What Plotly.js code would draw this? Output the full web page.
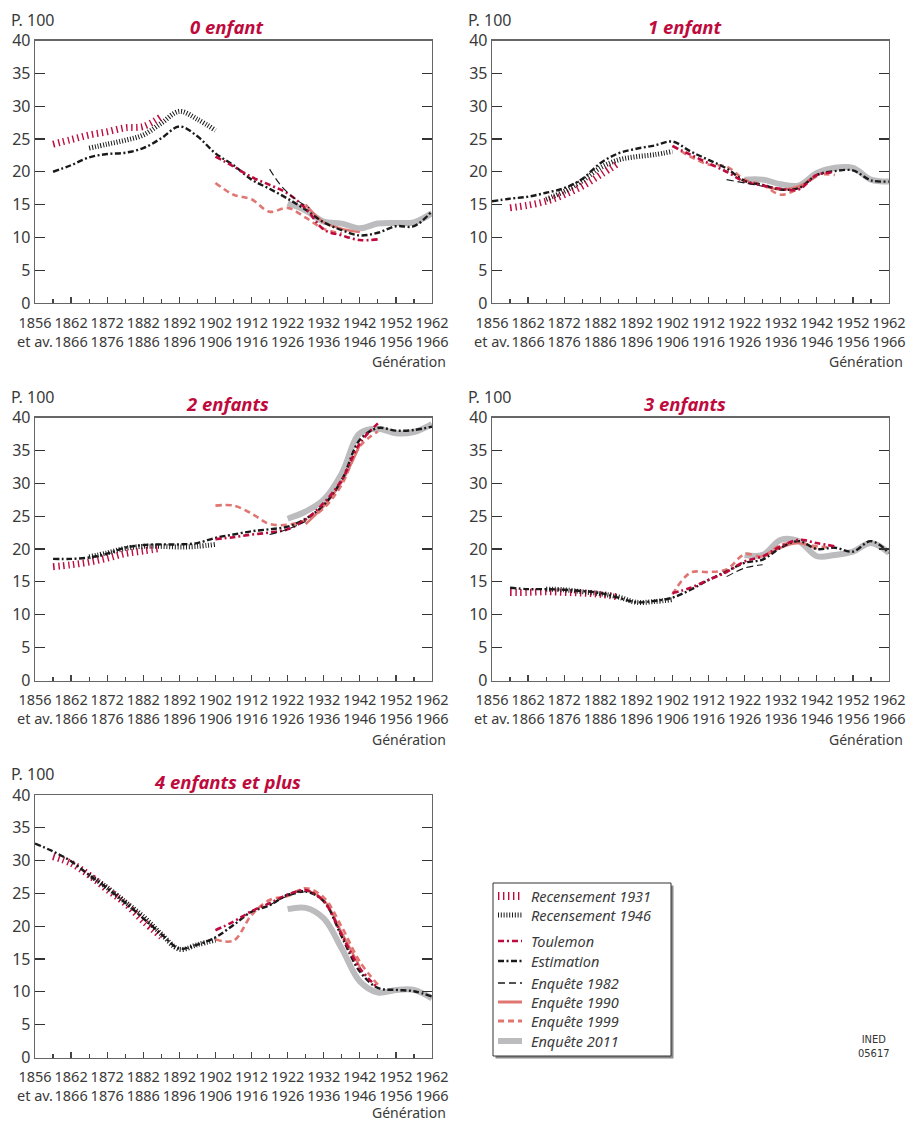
<!DOCTYPE html>
<html><head><meta charset="utf-8">
<script src="https://cdn.plot.ly/plotly-3.0.1.min.js"></script>
<style>html,body{margin:0;padding:0;background:#fff}#chart{width:907px;height:1121px}</style>
</head><body><div id="chart"></div>
<script>
// ---------- Data (generation midpoints, percent) ----------
const panelTitles = ["0 enfant", "1 enfant", "2 enfants", "3 enfants", "4 enfants et plus"];
const tickYears = [1854, 1864, 1874, 1884, 1894, 1904, 1914, 1924, 1934, 1944, 1954, 1964];
const tickLabels = ["1856<br>et av.", "1862<br>1866", "1872<br>1876", "1882<br>1886", "1892<br>1896",
  "1902<br>1906", "1912<br>1916", "1922<br>1926", "1932<br>1936", "1942<br>1946", "1952<br>1956", "1962<br>1966"];
const minorYears = [1859, 1869, 1879, 1889, 1899, 1909, 1919, 1929, 1939, 1949, 1959];

const yearsEstA = [1859, 1864, 1869, 1874, 1879, 1884, 1889, 1894, 1899, 1904, 1909, 1914, 1919, 1924, 1929, 1934, 1939, 1944, 1949, 1954, 1959, 1964];
const yearsEstB = [1854, 1859, 1864, 1869, 1874, 1879, 1884, 1889, 1894, 1899, 1904, 1909, 1914, 1919, 1924, 1929, 1934, 1939, 1944, 1949, 1954, 1959, 1964];
const yearsRec1931 = [1859, 1864, 1869, 1874, 1879, 1884, 1889];
const yearsRec1946 = [1869, 1874, 1879, 1884, 1889, 1894, 1899, 1904];
const yearsToulemon = [1904, 1909, 1914, 1919, 1924, 1929, 1934, 1939, 1944, 1949];
const yearsEnq1999 = [1904, 1909, 1914, 1919, 1924, 1929, 1934, 1939, 1944, 1949];
const yearsEnq1999p0 = [1904, 1909, 1914, 1919, 1924, 1929, 1934, 1939];
const yearsEnq1990 = [1929, 1934, 1939, 1944];
const yearsEnq1982p0 = [1919, 1922, 1926, 1930];
const yearsEnq1982 = [1919, 1924, 1929];
const yearsEnq2011 = [1924, 1929, 1934, 1939, 1944, 1949, 1954, 1959, 1964];

// 0 enfant
const p0Rec1931 = [24.2, 24.9, 25.6, 26.1, 26.7, 26.9, 28.4];
const p0Rec1946 = [23.6, 24.2, 24.8, 25.6, 27.4, 29.2, 28.0, 26.3];
const p0Est = [20.0, 21.0, 22.2, 22.7, 22.9, 23.6, 25.1, 26.9, 25.4, 22.8, 21.0, 18.8, 17.4, 15.9, 14.2, 12.3, 11.1, 10.3, 10.7, 11.7, 11.7, 14.0];
const p0Toulemon = [22.3, 20.8, 19.2, 18.0, 16.7, 14.4, 11.2, 10.3, 9.6, 9.7];
const p0Enq1982 = [20.4, 18.0, 15.9, 14.5];
const p0Enq1990 = [15.0, 12.3, 11.3, 10.8];
const p0Enq1999 = [18.3, 16.5, 15.8, 13.9, 14.5, 13.0, 11.3, 10.6];
const p0Enq2011 = [15.2, 14.1, 12.4, 12.1, 11.4, 12.1, 12.2, 12.3, 13.7];

// 1 enfant
const p1Rec1931 = [14.5, 14.9, 15.5, 16.5, 17.8, 19.5, 21.3];
const p1Rec1946 = [15.8, 17.0, 18.6, 20.6, 21.8, 22.3, 22.6, 23.1];
const p1Est = [15.5, 15.9, 16.2, 16.8, 17.5, 18.9, 21.3, 22.8, 23.5, 24.0, 24.6, 23.1, 21.8, 20.5, 18.6, 18.0, 17.3, 17.5, 19.5, 20.1, 20.2, 18.7, 18.5];
const p1Toulemon = [23.9, 22.6, 21.3, 20.0, 18.5, 17.9, 17.4, 17.3, 19.5, 19.9];
const p1Enq1982 = [18.8, 18.3, 17.8];
const p1Enq1990 = [17.9, 17.3, 17.8, 19.3];
const p1Enq1999 = [24.0, 22.3, 21.1, 20.8, 18.8, 18.0, 16.5, 17.5, 19.5, 19.5];
const p1Enq2011 = [18.8, 18.8, 18.1, 17.9, 19.8, 20.6, 20.6, 18.8, 18.5];

// 2 enfants
const p2Rec1931 = [17.3, 17.6, 18.0, 18.6, 19.3, 19.7, 20.1];
const p2Rec1946 = [18.8, 19.4, 20.1, 20.4, 20.4, 20.3, 20.4, 20.7];
const p2Est = [18.5, 18.5, 18.7, 19.3, 20.2, 20.6, 20.7, 20.7, 20.9, 21.7, 22.2, 22.7, 23.0, 23.4, 24.6, 26.7, 30.5, 36.6, 38.4, 38.0, 38.1, 38.6];
const p2Toulemon = [21.5, 21.8, 22.2, 22.5, 23.0, 24.5, 27.0, 30.5, 36.1, 39.1];
const p2Enq1982 = [22.2, 23.0, 24.2];
const p2Enq1990 = [23.8, 26.5, 30.2, 35.8];
const p2Enq1999 = [26.6, 26.6, 25.4, 23.8, 23.7, 24.4, 26.2, 29.8, 35.6, 37.9];
const p2Enq2011 = [24.6, 25.7, 27.5, 31.5, 37.6, 38.3, 37.6, 37.8, 39.0];

// 3 enfants
const p3Rec1931 = [13.4, 13.4, 13.5, 13.4, 13.3, 13.1, 12.7];
const p3Rec1946 = [13.9, 13.8, 13.5, 13.2, 12.7, 11.9, 12.0, 12.3];
const p3Est = [14.1, 13.9, 13.9, 13.8, 13.6, 13.3, 12.6, 11.9, 12.1, 12.6, 13.8, 15.3, 16.6, 17.9, 18.4, 20.2, 21.2, 20.0, 20.2, 19.6, 21.2, 19.4];
const p3Toulemon = [13.3, 14.1, 15.3, 16.5, 18.1, 18.9, 20.4, 21.4, 20.9, 20.4];
const p3Enq1982 = [15.8, 17.1, 17.6];
const p3Enq1990 = [18.7, 20.2, 20.9, 20.0];
const p3Enq1999 = [13.1, 16.4, 16.5, 16.9, 19.2, 18.9, 20.6, 20.9, 20.4, 20.2];
const p3Enq2011 = [19.1, 19.1, 21.4, 21.2, 18.9, 19.1, 19.6, 20.9, 19.4];

// 4 enfants et plus
const p4Rec1931 = [30.6, 29.6, 27.8, 25.6, 23.5, 20.8, 18.4];
const p4Rec1946 = [27.8, 25.9, 23.7, 21.5, 18.8, 16.5, 17.2, 17.9];
const p4Est = [32.6, 31.4, 29.9, 27.8, 25.8, 23.6, 21.2, 18.8, 16.6, 17.2, 18.3, 20.2, 22.2, 23.2, 24.8, 25.3, 23.8, 18.4, 13.1, 10.6, 10.3, 10.1, 9.3];
const p4Toulemon = [19.4, 20.7, 22.3, 23.5, 24.8, 25.5, 23.8, 18.7, 13.6, 10.6];
const p4Enq1982 = [23.2, 24.6, 25.3];
const p4Enq1990 = [25.6, 24.0, 19.0, 13.8];
const p4Enq1999 = [18.0, 17.8, 21.7, 24.0, 24.6, 25.8, 24.4, 19.9, 14.6, 11.1];
const p4Enq2011 = [22.6, 22.8, 21.2, 16.6, 11.6, 9.9, 10.3, 10.3, 9.0];

// ---------- Styles ----------
const CRIMSON = "#be0a3c";
const SALMON = "#e07672";
const GREY = "#bcbcbf";
const BLACK = "#1a1a1a";

const seriesStyle = {
  rec1931: {name: "Recensement 1931", line: {color: CRIMSON, width: 7, dash: "1.4px,3.6px"}, legendWidth: 8},
  rec1946: {name: "Recensement 1946", line: {color: BLACK, width: 5, dash: "1px,1.8px"}, legendWidth: 5},
  toulemon: {name: "Toulemon", line: {color: CRIMSON, width: 2.6, dash: "6px,3px,2px,3px"}, legendWidth: 2.6},
  est: {name: "Estimation", line: {color: BLACK, width: 2.4, dash: "6px,2.5px,2px,2.5px"}, legendWidth: 2.4},
  enq1982: {name: "Enquête 1982", line: {color: BLACK, width: 1.1, dash: "7px,4px"}, legendWidth: 1.3},
  enq1990: {name: "Enquête 1990", line: {color: SALMON, width: 2.4}, legendWidth: 3},
  enq1999: {name: "Enquête 1999", line: {color: SALMON, width: 2.6, dash: "6px,4px"}, legendWidth: 3},
  enq2011: {name: "Enquête 2011", line: {color: GREY, width: 6}, legendWidth: 6}
};
const legendOrder = ["rec1931", "rec1946", "toulemon", "est", "enq1982", "enq1990", "enq1999", "enq2011"];
const legendRowY = [896, 915, 941, 961, 983, 1002, 1021, 1041];

const panels = [
  {rec1931: [yearsRec1931, p0Rec1931], rec1946: [yearsRec1946, p0Rec1946], est: [yearsEstA, p0Est], toulemon: [yearsToulemon, p0Toulemon], enq1982: [yearsEnq1982p0, p0Enq1982], enq1990: [yearsEnq1990, p0Enq1990], enq1999: [yearsEnq1999p0, p0Enq1999], enq2011: [yearsEnq2011, p0Enq2011]},
  {rec1931: [yearsRec1931, p1Rec1931], rec1946: [yearsRec1946, p1Rec1946], est: [yearsEstB, p1Est], toulemon: [yearsToulemon, p1Toulemon], enq1982: [yearsEnq1982, p1Enq1982], enq1990: [yearsEnq1990, p1Enq1990], enq1999: [yearsEnq1999, p1Enq1999], enq2011: [yearsEnq2011, p1Enq2011]},
  {rec1931: [yearsRec1931, p2Rec1931], rec1946: [yearsRec1946, p2Rec1946], est: [yearsEstA, p2Est], toulemon: [yearsToulemon, p2Toulemon], enq1982: [yearsEnq1982, p2Enq1982], enq1990: [yearsEnq1990, p2Enq1990], enq1999: [yearsEnq1999, p2Enq1999], enq2011: [yearsEnq2011, p2Enq2011]},
  {rec1931: [yearsRec1931, p3Rec1931], rec1946: [yearsRec1946, p3Rec1946], est: [yearsEstA, p3Est], toulemon: [yearsToulemon, p3Toulemon], enq1982: [yearsEnq1982, p3Enq1982], enq1990: [yearsEnq1990, p3Enq1990], enq1999: [yearsEnq1999, p3Enq1999], enq2011: [yearsEnq2011, p3Enq2011]},
  {rec1931: [yearsRec1931, p4Rec1931], rec1946: [yearsRec1946, p4Rec1946], est: [yearsEstB, p4Est], toulemon: [yearsToulemon, p4Toulemon], enq1982: [yearsEnq1982, p4Enq1982], enq1990: [yearsEnq1990, p4Enq1990], enq1999: [yearsEnq1999, p4Enq1999], enq2011: [yearsEnq2011, p4Enq2011]}
];

const drawOrder = ["enq2011", "enq1999", "enq1990", "rec1931", "rec1946", "est", "toulemon", "enq1982"];

// ---------- Layout geometry (pixels) ----------
const W = 907, H = 1121;
const boxes = [
  {l: 35, r: 432, t: 40.5, b: 303, gen: 362},
  {l: 492, r: 889, t: 40.5, b: 303, gen: 362},
  {l: 35, r: 432, t: 417.5, b: 680.5, gen: 739},
  {l: 492, r: 889, t: 417.5, b: 680.5, gen: 739},
  {l: 35, r: 432, t: 795, b: 1057.5, gen: 1112}
];
const px = x => x / W;
const py = y => 1 - y / H;

const FONT = "'Noto Sans', 'Open Sans', sans-serif";
const TXT = "#3a3a3a";
const traces = [];
const layout = {
  width: W, height: H,
  margin: {l: 0, r: 0, t: 0, b: 0},
  paper_bgcolor: "#fff", plot_bgcolor: "rgba(0,0,0,0)",
  font: {family: FONT, color: TXT, size: 14},
  showlegend: false,
  annotations: [], shapes: []
};

boxes.forEach((b, i) => {
  const s = i === 0 ? "" : String(i + 1);
  layout["xaxis" + s] = {
    domain: [px(b.l), px(b.r)], anchor: "y" + s, range: [1854, 1964],
    tickmode: "array", tickvals: tickYears, ticktext: tickLabels, tickangle: 0,
    ticks: "inside", ticklen: 6, tickwidth: 1.2, tickcolor: "#444",
    ticklabelstandoff: 6,
    minor: {tickmode: "array", tickvals: minorYears, ticks: "inside", ticklen: 4, tickwidth: 1.2, tickcolor: "#444"},
    showline: true, linecolor: "#666", linewidth: 1.3, mirror: true,
    showgrid: false, zeroline: false, fixedrange: true,
    tickfont: {family: FONT, size: 14.5, color: TXT}
  };
  layout["yaxis" + s] = {
    domain: [py(b.b), py(b.t)], anchor: "x" + s, range: [0, 40],
    tickmode: "linear", tick0: 0, dtick: 5,
    ticks: "inside", ticklen: 10, tickwidth: 1.2, tickcolor: "#333",
    showline: true, linecolor: "#666", linewidth: 1.3, mirror: "ticks",
    showgrid: false, zeroline: false, fixedrange: true,
    tickfont: {family: FONT, size: 16, color: TXT}
  };
  layout.annotations.push({
    xref: "paper", yref: "paper", x: px((b.l + b.r) / 2 - 6), y: py(b.t - 14),
    xanchor: "center", yanchor: "middle", showarrow: false,
    text: "<b><i>" + panelTitles[i] + "</i></b>",
    font: {family: FONT, size: 18.5, color: CRIMSON}
  });
  layout.annotations.push({
    xref: "paper", yref: "paper", x: px(b.l - 26), y: py(b.t - 21),
    xanchor: "left", yanchor: "middle", showarrow: false,
    text: "P. 100", font: {family: FONT, size: 16, color: TXT}
  });
  layout.annotations.push({
    xref: "paper", yref: "paper", x: px(b.r + 16), y: py(b.gen),
    xanchor: "right", yanchor: "middle", showarrow: false,
    text: "Génération", font: {family: FONT, size: 14, color: TXT}
  });

  const pdata = panels[i];
  drawOrder.forEach(key => {
    const st = seriesStyle[key];
    const d = pdata[key];
    traces.push({
      type: "scatter", mode: "lines",
      x: d[0], y: d[1],
      xaxis: "x" + s, yaxis: "y" + s,
      name: st.name, showlegend: false,
      line: Object.assign({shape: "spline", smoothing: 1}, st.line),
      hoverinfo: "skip"
    });
  });
});

// ---------- Legend box (drawn with shapes + annotations) ----------
layout.shapes.push({
  type: "rect", xref: "paper", yref: "paper", layer: "above",
  x0: px(495.5), x1: px(673.5), y0: py(1058.5), y1: py(885.5),
  fillcolor: "#8a8a8a", line: {width: 0}
});
layout.shapes.push({
  type: "rect", xref: "paper", yref: "paper", layer: "above",
  x0: px(493), x1: px(671), y0: py(1056), y1: py(883),
  fillcolor: "#fff", line: {color: "#333", width: 1}
});
legendOrder.forEach((key, k) => {
  const st = seriesStyle[key];
  const yy = legendRowY[k];
  layout.shapes.push({
    type: "line", xref: "paper", yref: "paper", layer: "above",
    x0: px(498), x1: px(522), y0: py(yy), y1: py(yy),
    line: {color: st.line.color, width: st.legendWidth, dash: st.line.dash || "solid"}
  });
  layout.annotations.push({
    xref: "paper", yref: "paper", x: px(529), y: py(yy),
    xanchor: "left", yanchor: "middle", showarrow: false,
    text: "<i>" + st.name + "</i>",
    font: {family: FONT, size: 14.5, color: TXT}
  });
});

// INED code
layout.annotations.push({
  xref: "paper", yref: "paper", x: px(873), y: py(1046),
  xanchor: "center", yanchor: "middle", showarrow: false,
  text: "INED<br>05617",
  font: {family: "'Liberation Sans Narrow', 'DejaVu Sans Condensed', sans-serif", size: 11, color: "#333"}
});

Plotly.newPlot("chart", traces, layout, {displayModeBar: false, staticPlot: true});
</script></body></html>
